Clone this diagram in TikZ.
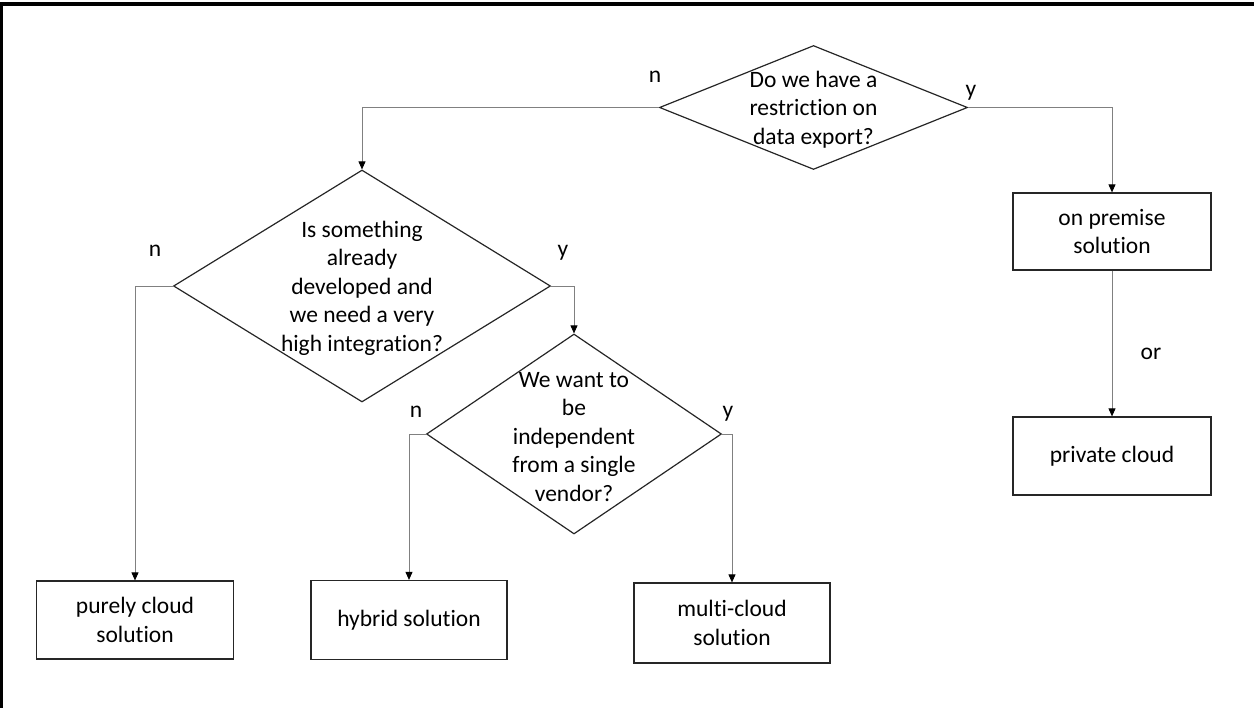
\documentclass[tikz,border=0pt]{standalone}
\usepackage{fontspec}
\setmainfont[RawFeature={-liga;-clig}]{Carlito}
\usetikzlibrary{shapes.geometric,arrows.meta}
\definecolor{linegray}{HTML}{808080}
\definecolor{shapeline}{HTML}{262626}
\tikzset{
  dec/.style={diamond, draw=shapeline, line width=1.2pt, inner sep=0pt, aspect=1},
  qtext/.style={align=center, inner sep=0pt, font=\fontsize{23.5}{28.5}\selectfont},
  outbox/.style={rectangle, draw=shapeline, line width=1.2pt, inner sep=0pt, align=center, font=\fontsize{23.5}{28.5}\selectfont},
  conn/.style={draw=linegray, line width=0.9pt, -{Triangle[length=8pt,width=7pt,fill=black,color=black]}},
  lbl/.style={anchor=base, inner sep=0pt, font=\fontsize{23.5}{28.5}\selectfont}
}
\begin{document}
\begin{tikzpicture}[x=1pt,y=-1pt]
\useasboundingbox (0,0) rectangle (1254,708);
\fill[black] (0,2) rectangle (1254,6);
\fill[black] (0,2) rectangle (3,708);

% decisions
\node[dec, minimum width=308pt, minimum height=124pt] (d1) at (813.5,107.5) {};
\node[qtext] (d1t) at (813.5,109.5) {Do we have a\\restriction on\\data export?};
\node[dec, minimum width=377pt, minimum height=232pt] (d2) at (362,286) {};
\node[qtext] (d2t) at (362,288) {Is something\\already\\developed and\\we need a very\\high integration?};
\node[dec, minimum width=295pt, minimum height=200pt] (d3) at (574,434) {};
\node[qtext] (d3t) at (574,437) {We want to\\be\\independent\\from a single\\vendor?};

% outcomes
\node[outbox, minimum width=198pt, minimum height=77pt] (onprem) at (1112,231.5) {on premise\\solution};
\node[outbox, minimum width=198pt, minimum height=78pt] (priv) at (1112,456) {private cloud};
\node[outbox, minimum width=197pt, minimum height=78pt] (pure) at (135,620) {purely cloud\\solution};
\node[outbox, minimum width=196pt, minimum height=79pt] (hyb) at (409,620) {hybrid solution};
\node[outbox, minimum width=196pt, minimum height=80pt] (multi) at (732,623) {multi-cloud\\solution};

% connectors
\draw[conn] (d1.west) -| (d2.north);
\draw[conn] (d1.east) -| (onprem.north);
\draw[conn] (onprem.south) -- (priv.north);
\draw[conn] (d2.west) -| (pure.north);
\draw[conn] (d2.east) -| (d3.north);
\draw[conn] (d3.west) -| (hyb.north);
\draw[conn] (d3.east) -| (multi.north);

% labels
\node[lbl] (l1n) at (655,83) {n};
\node[lbl] (l1y) at (971,97) {y};
\node[lbl] (l2n) at (155,257) {n};
\node[lbl] (l2y) at (563,257) {y};
\node[lbl] (l3n) at (416,418) {n};
\node[lbl] (l3y) at (728,418) {y};
\node[lbl] (lor) at (1151,360) {or};
\end{tikzpicture}
\end{document}
